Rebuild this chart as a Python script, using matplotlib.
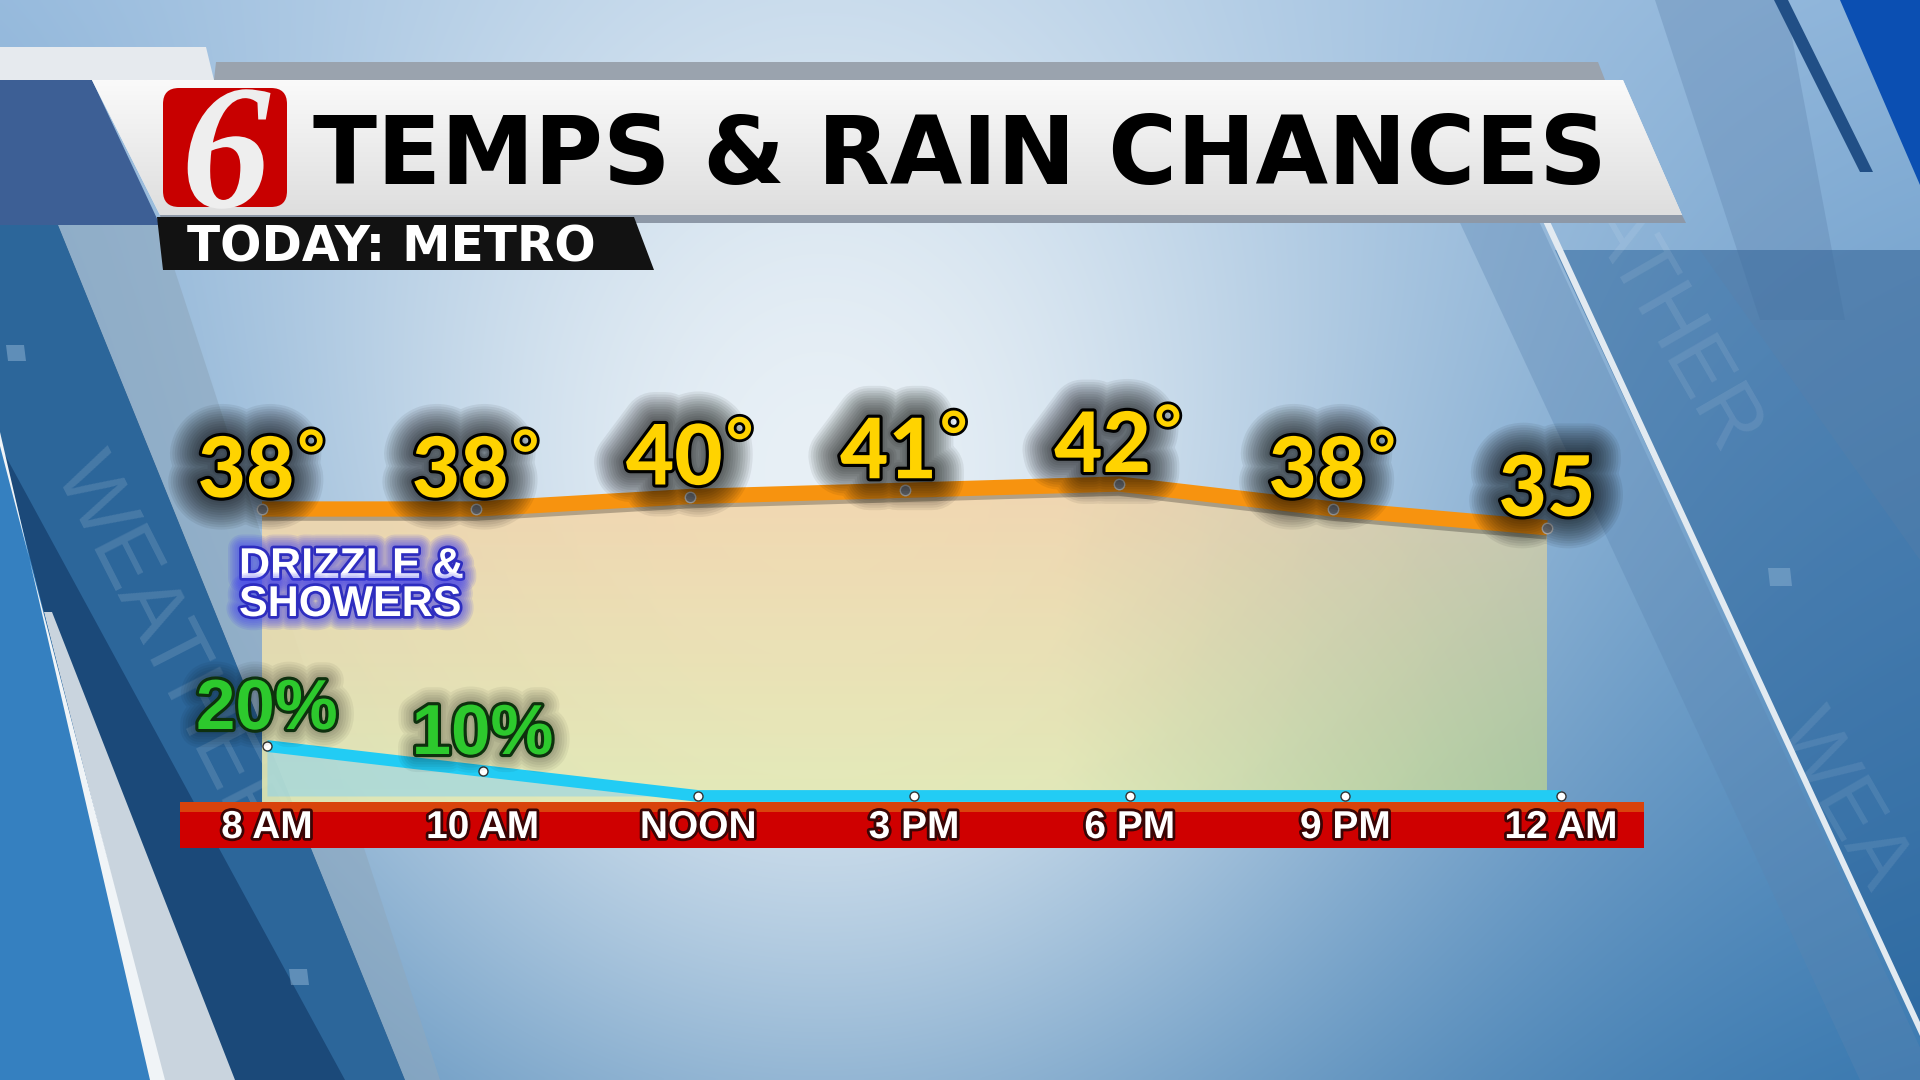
import numpy as np
import matplotlib
matplotlib.use("Agg")
import matplotlib.pyplot as plt
import matplotlib.patheffects as pe
from matplotlib.colors import to_rgb
from matplotlib.patches import Polygon, FancyBboxPatch
from matplotlib.transforms import Affine2D

# ---- chart data ----
times = ["8 AM", "10 AM", "NOON", "3 PM", "6 PM", "9 PM", "12 AM"]
temps = [38, 38, 40, 41, 42, 38, 35]
rain = [20, 10, 0, 0, 0, 0, 0]
temp_degree = [True, True, True, True, True, True, False]
rain_labeled = [True, True, False, False, False, False, False]
title = "TEMPS & RAIN CHANCES"
subtitle = "TODAY: METRO"
note_lines = ["DRIZZLE &", "SHOWERS"]

W, H = 1920, 1080
fig = plt.figure(figsize=(19.2, 10.8), dpi=100)


def box(x0, y0, x1, y1):
    # pixel box with top-left origin -> figure fraction rect
    return [x0 / W, 1 - y1 / H, (x1 - x0) / W, (y1 - y0) / H]


def poly(ax, pts, color, alpha=1.0, z=1):
    p = Polygon(pts, closed=True, facecolor=color, edgecolor="none", alpha=alpha, zorder=z)
    ax.add_patch(p)
    return p


def soft_halo(color, widest, steps, alpha, core_w, core_col):
    fx = [pe.withStroke(linewidth=lw, foreground=(*to_rgb(color), alpha))
          for lw in np.linspace(widest, core_w + 3, steps)]
    fx.append(pe.withStroke(linewidth=core_w, foreground=core_col))
    return fx


class Enlarge(pe.AbstractPathEffect):
    """draw the glyph scaled up around its anchor (logo numeral)"""

    def __init__(self, ax, xy, scale):
        super().__init__()
        self.ax, self.xy, self.scale = ax, xy, scale

    def draw_path(self, renderer, gc, tpath, affine, rgbFace=None):
        cx, cy = self.ax.transData.transform(self.xy)
        big = affine + Affine2D().translate(-cx, -cy).scale(self.scale).translate(cx, cy)
        renderer.draw_path(gc, tpath, big, rgbFace)


# ---- background (pixel coordinates) ----
bg = fig.add_axes([0, 0, 1, 1])
yy, xx = np.mgrid[0:H:4, 0:W:4].astype(float)
t = (yy / H)[..., None]
edge = np.array(to_rgb("#8AB2D9")) * (1 - t) + np.array(to_rgb("#3676AE")) * t
w = np.exp(-((xx - 820) / 650) ** 2 - ((yy - 470) / 760) ** 2)[..., None]
img = edge * (1 - w) + np.array(to_rgb("#E8F0F6")) * w
bg.imshow(img, extent=(0, W, H, 0), interpolation="bilinear", aspect="auto", zorder=0)

# left side panels
poly(bg, [(0, 225), (58, 225), (405, 1080), (0, 1080)], "#1B4979", z=1)
band = poly(bg, [(-120, 225), (58, 225), (405, 1080), (345, 1080)], "#2C669A", z=1.1)
poly(bg, [(58, 225), (160, 225), (440, 1080), (405, 1080)], "#8EA8BE", alpha=0.6, z=1.2)
poly(bg, [(44, 612), (52, 612), (235, 1080), (163, 1080)], "#C9D4DE", z=1.3)
poly(bg, [(0, 440), (163, 1080), (0, 1080)], "#3580C0", z=1.3)
poly(bg, [(0, 432), (0, 446), (165, 1080), (150, 1080)], "#F0F4F7", z=1.4)
wtx = bg.text(170, 650, "WEATHER", rotation=-63, rotation_mode="anchor", ha="center",
              va="center", fontsize=62, family="Liberation Sans", color=(1, 1, 1, 0.13), zorder=1.5)
wtx.set_clip_path(band)
for sx, sy in [(15, 353), (298, 977)]:
    poly(bg, [(sx - 9, sy - 8), (sx + 9, sy - 8), (sx + 11, sy + 8), (sx - 7, sy + 8)],
         "#9EC0DD", alpha=0.45, z=1.5)

# right side panels
poly(bg, [(1655, 0), (1785, 0), (1845, 320), (1760, 320)], "#5F84AE", alpha=0.35, z=1)
poly(bg, [(1440, 180), (1520, 180), (1935, 1080), (1860, 1080)], "#5B85B1", alpha=0.35, z=1)
poly(bg, [(1555, 250), (1920, 250), (1920, 1030)], "#1A5690", alpha=0.45, z=1.1)
poly(bg, [(1700, 250), (1920, 250), (1920, 560)], "#5F7FA6", alpha=0.25, z=1.1)
poly(bg, [(1540, 215), (1547, 215), (1920, 1022), (1920, 1036)], "#E2EAF1", z=1.2)
poly(bg, [(1840, 0), (1920, 0), (1920, 185)], "#0B4FB2", z=1.3)
poly(bg, [(1774, 0), (1788, 0), (1873, 172), (1860, 172)], "#214F86", z=1.3)
for txt, cx, cy in [("ATHER", 1672, 325), ("WEA", 1842, 800)]:
    bg.text(cx, cy, txt, rotation=-60, rotation_mode="anchor", ha="center", va="center",
            fontsize=60, family="Liberation Sans", color=(1, 1, 1, 0.09), zorder=1.4)
poly(bg, [(1768, 568), (1790, 568), (1792, 586), (1770, 586)], "#9EC0DD", alpha=0.4, z=1.4)

# ---- header banner ----
poly(bg, [(0, 47), (206, 47), (214, 80), (0, 80)], "#E6EAEE", z=2)
poly(bg, [(0, 80), (92, 80), (160, 225), (0, 225)], "#3D5F95", z=2)
poly(bg, [(216, 62), (1598, 62), (1605, 80), (214, 80)], "#9AA3AE", z=2)
banner = poly(bg, [(92, 80), (1623, 80), (1682, 215), (160, 215)], "#F1F1F1", z=2.1)
gy = np.linspace(0, 1, 64)[:, None, None]
grad = np.array(to_rgb("#FAFAFA")) * (1 - gy) + np.array(to_rgb("#DEDEDE")) * gy
gim = bg.imshow(np.repeat(grad, 2, axis=1), extent=(92, 1682, 215, 80), aspect="auto",
                interpolation="bilinear", zorder=2.2)
gim.set_clip_path(banner)
poly(bg, [(160, 215), (1682, 215), (1686, 223), (162, 223)], "#8D98A7", z=2.2)

logo = FancyBboxPatch((163, 88), 124, 119, boxstyle="round,pad=0,rounding_size=16",
                      facecolor="#C80000", edgecolor="none", zorder=3)
bg.add_patch(logo)
six = bg.text(226, 207, "6", ha="center", va="baseline", fontsize=40, family="Liberation Serif",
              style="italic", weight="bold", color="#EEEEEE", zorder=3.1,
              path_effects=[Enlarge(bg, (226, 207), 3.2)])
six.set_clip_path(logo)

bg.text(313, 184, title, ha="left", va="baseline", fontsize=67.5, family="DejaVu Sans",
        weight="bold", color="black", zorder=3)

poly(bg, [(157, 217), (634, 217), (654, 270), (163, 270)], "#121212", z=3)
bg.text(187, 261, subtitle, ha="left", va="baseline", fontsize=35, family="DejaVu Sans",
        weight="bold", color="white", zorder=3.1)

bg.set_xlim(0, W)
bg.set_ylim(H, 0)
bg.axis("off")

# ---- temperature axes ----
ax_t = fig.add_axes(box(180, 300, 1644, 803))
ax_t.set_xlim(-0.383, 6.453)
ax_t.set_ylim(-9.04, 71.44)
ax_t.axis("off")
x = np.arange(len(times))

area = ax_t.fill_between(x, temps, -9.04, color="none", zorder=1)
gx = np.linspace(0, 1, 300)[None, :, None]
gv = np.linspace(1, 0, 200)[:, None, None]   # 1 at bottom, 0 at top (origin lower)
green = np.clip((gx - 0.62) / 0.38, 0, 1)
left_col = np.array(to_rgb("#F4D4AA")) * (1 - gv) + np.array(to_rgb("#E6ECB4")) * gv
right_col = np.array(to_rgb("#D2CAB0")) * (1 - gv) + np.array(to_rgb("#B0CD9C")) * gv
fill_img = left_col * (1 - green) + right_col * green
fim = ax_t.imshow(fill_img, extent=(0, 6, -9.04, 43), origin="lower", aspect="auto",
                  interpolation="bilinear", alpha=0.9, zorder=1)
fim.set_clip_path(area.get_paths()[0], transform=ax_t.transData)

ax_t.plot(x, temps, color="#F7930F", lw=11, solid_capstyle="butt", zorder=3,
          path_effects=[pe.SimpleLineShadow(offset=(0, -3), alpha=0.25), pe.Normal()])
ax_t.plot(x, temps, "o", ms=7.5, mfc="#8B9097", mec="#E0E0E0", mew=1, zorder=4)

halo = soft_halo("black", 46, 12, 0.065, 4.5, "black")
for i, (tv, deg) in enumerate(zip(temps, temp_degree)):
    dx = -16 if deg else 0
    d = ax_t.annotate(str(tv), (i, tv), xytext=(dx, 12), textcoords="offset pixels",
                      ha="center", va="baseline", fontsize=60, family="Lato", weight=900,
                      color="#FFD300", path_effects=halo, zorder=6, annotation_clip=False)
    if deg:
        ax_t.annotate("°", xy=(1, tv), xycoords=(d, "data"), xytext=(3, 31),
                      textcoords="offset pixels", ha="left", va="baseline", fontsize=48,
                      family="Lato", weight="bold", color="#FFD300", zorder=6,
                      path_effects=[pe.withStroke(linewidth=4, foreground="black")],
                      annotation_clip=False)

# ---- rain axes ----
ax_r = fig.add_axes(box(180, 300, 1644, 803))
ax_r.set_xlim(-0.403, 6.385)
ax_r.set_ylim(-2.8, 198.4)
ax_r.axis("off")
ax_r.fill_between(x, rain, 0, color="#8CD2EE", alpha=0.55, lw=0, zorder=1)
ax_r.plot(x, rain, color="#22CCF4", lw=8.5, solid_capstyle="butt", zorder=3)
ax_r.plot(x, rain, "o", ms=6.5, mfc="white", mec="#333333", mew=1, zorder=4)

rhalo = soft_halo("black", 26, 6, 0.05, 4.5, "#0E300E")
for i, (rv, show) in enumerate(zip(rain, rain_labeled)):
    if show:
        ax_r.annotate(f"{rv}%", (i, rv), xytext=(0, 17), textcoords="offset pixels",
                      ha="center", va="baseline", fontsize=51, family="Liberation Sans",
                      weight="bold", color="#2DC92D", path_effects=rhalo, zorder=6,
                      annotation_clip=False)

# note label (figure level, above the chart fill)
nhalo = soft_halo("#4040F0", 20, 6, 0.12, 4, (0.16, 0.16, 0.75, 0.95))
for j, line in enumerate(note_lines):
    fig.text(239 / W, 1 - (578 + 38 * j) / H, line, ha="left", va="baseline", fontsize=31,
             family="Liberation Sans", weight="bold", color="white", path_effects=nhalo)

# ---- time axis bar ----
ax_b = fig.add_axes(box(180, 802, 1644, 848))
ax_b.set_xlim(ax_r.get_xlim())
ax_b.set_ylim(0, 1)
ax_b.axhspan(0, 1, color="#CF0000", lw=0)
ax_b.axhspan(0.78, 1, color="#D9430C", lw=0)
ax_b.axis("off")
for i, lab in enumerate(times):
    ax_b.text(i, 0.217, lab, transform=ax_b.get_xaxis_transform(), ha="center", va="baseline",
              fontsize=28, family="Liberation Sans", weight="bold", color="white",
              path_effects=[pe.withStroke(linewidth=4, foreground="#3A0505")])

fig.savefig("out.png", dpi=100)
